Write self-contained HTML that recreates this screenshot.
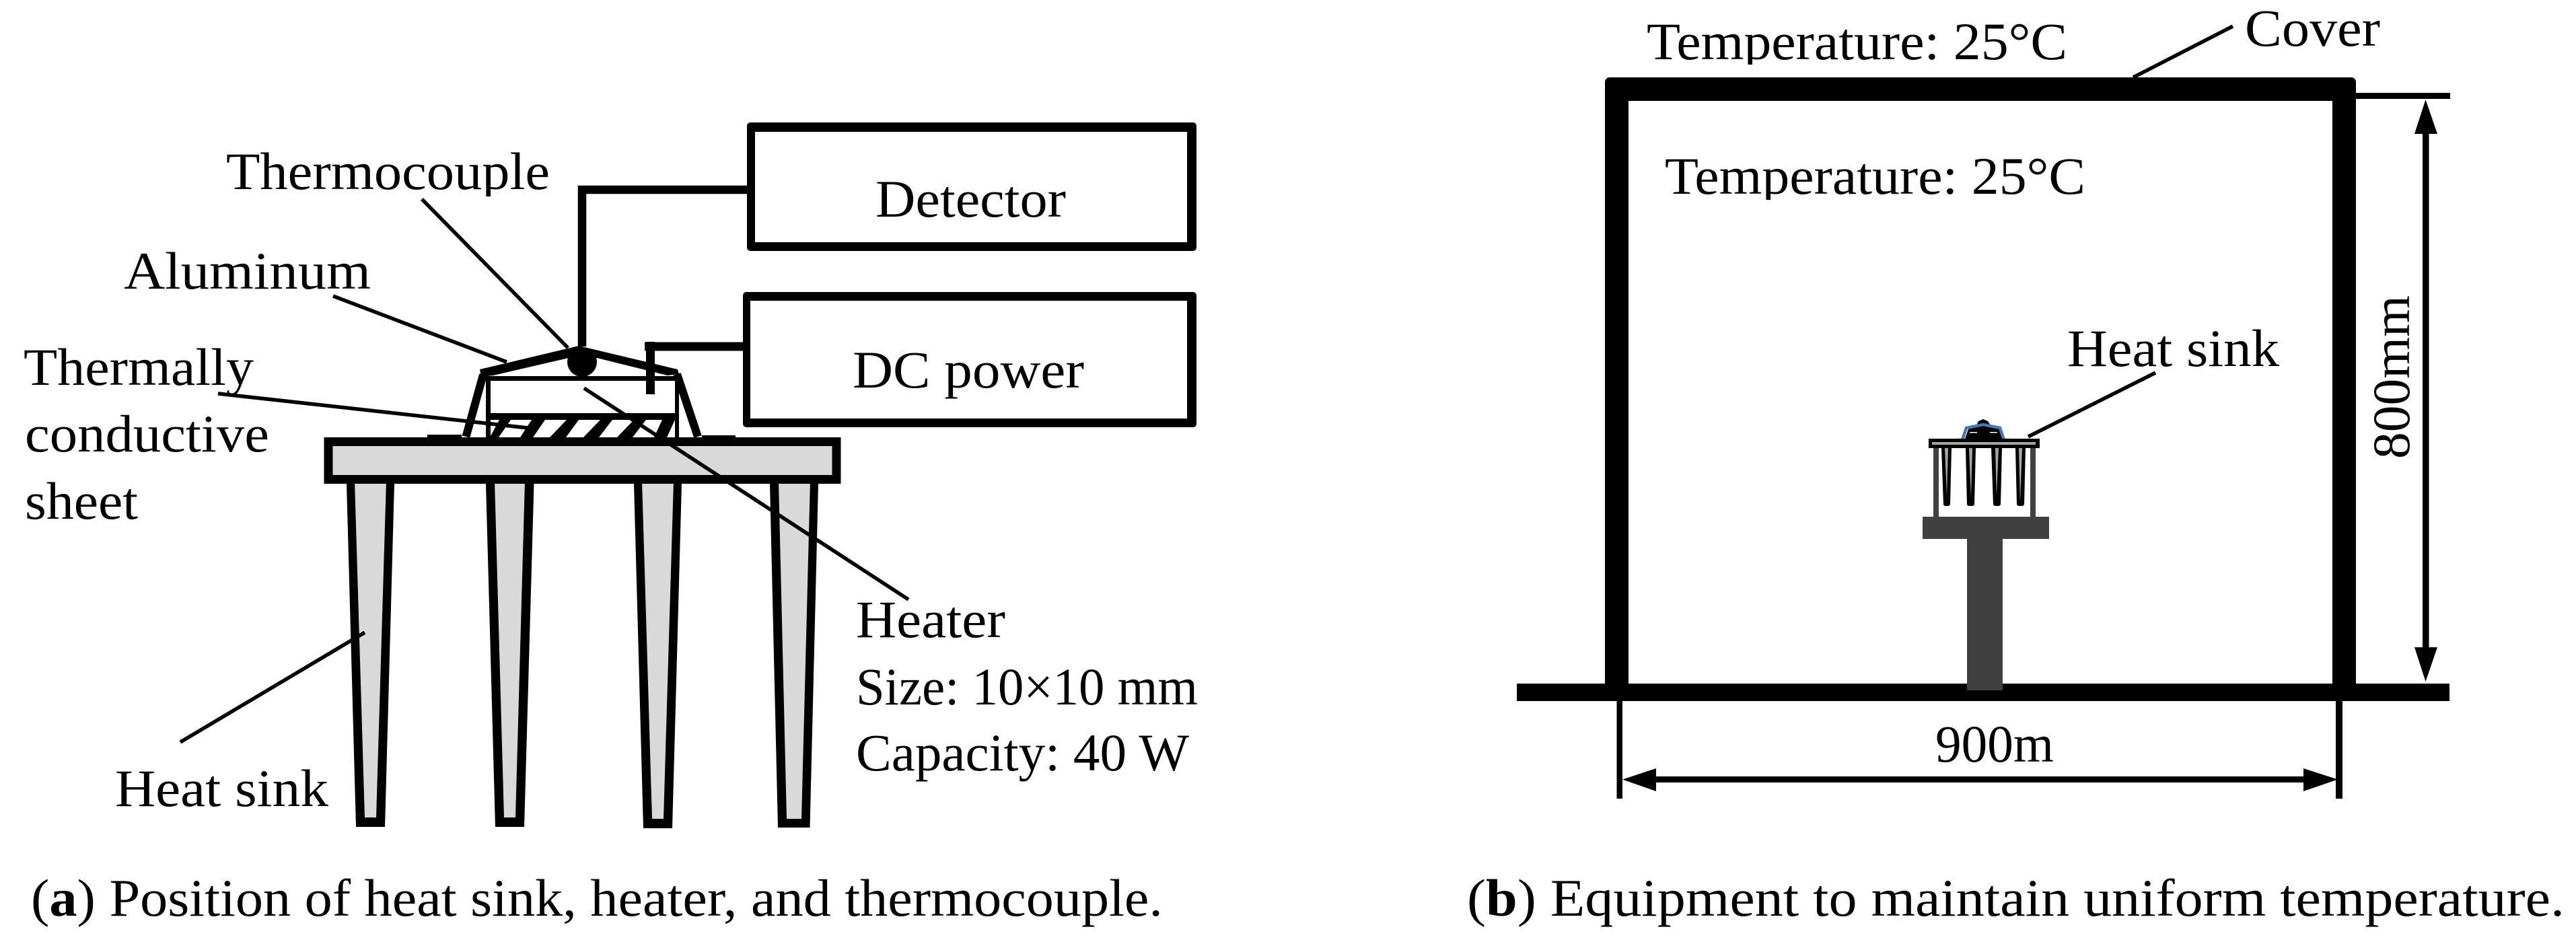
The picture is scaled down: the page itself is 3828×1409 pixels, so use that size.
<!DOCTYPE html>
<html>
<head>
<meta charset="utf-8">
<style>
html,body{margin:0;padding:0;background:#fff;}
svg{display:block;}
text{font-family:"Liberation Serif",serif;font-size:78px;fill:#000;}
</style>
</head>
<body>
<svg width="3828" height="1409" viewBox="0 0 3828 1409" xmlns="http://www.w3.org/2000/svg">
<defs>
<clipPath id="c1"><rect x="0" y="0" width="3828" height="292"/></clipPath>
<clipPath id="c2"><rect x="0" y="0" width="3828" height="586"/></clipPath>
<clipPath id="c3"><rect x="0" y="0" width="3828" height="96"/></clipPath>
<clipPath id="c4"><rect x="0" y="200" width="3828" height="97"/></clipPath>
</defs>
<rect width="3828" height="1409" fill="#fff"/>

<!-- (a) boxes -->
<rect x="1110" y="182" width="668" height="191" rx="5" fill="#000"/>
<rect x="1122" y="196" width="642" height="164" fill="#fff"/>
<rect x="1104" y="434" width="674" height="201" rx="5" fill="#000"/>
<rect x="1115" y="447" width="649" height="175" fill="#fff"/>
<path d="M865 515V282H1110" fill="none" stroke="#000" stroke-width="12.5"/>
<path d="M1104 515H958M966.5 508V586" fill="none" stroke="#000" stroke-width="13"/>

<!-- (a) heat sink -->
<g stroke="none">
<polygon points="515,719 586,719 572,1229 529,1229" fill="#000"/>
<polygon points="527,715 574,715 559,1215 542,1215" fill="#d9d9d9"/>
<polygon points="722,719 793.5,719 779,1229 736,1229" fill="#000"/>
<polygon points="735,715 780,715 766,1215 749,1215" fill="#d9d9d9"/>
<polygon points="942,719 1013,719 999,1231 956,1231" fill="#000"/>
<polygon points="954,715 1001,715 986,1217 969,1217" fill="#d9d9d9"/>
<polygon points="1144,719 1216,719 1203.5,1230 1156,1230" fill="#000"/>
<polygon points="1157,715 1204,715 1191,1217 1169,1217" fill="#d9d9d9"/>
</g>
<rect x="488" y="656.5" width="755" height="56" fill="#d9d9d9" stroke="#000" stroke-width="13"/>

<!-- heater + hatch -->
<g fill="#000">
<polygon points="728,650 741,650 759,624 742,624"/>
<polygon points="773,650 792,650 810,624 790,624"/>
<polygon points="817,650 841,650 860,624 842,624"/>
<polygon points="867,650 890,650 910,624 892,624"/>
<polygon points="917,650 940,650 960,624 942,624"/>
<polygon points="972,650 991,650 1003,624 984,624"/>
<rect x="722" y="559" width="287" height="7"/>
<rect x="722" y="614" width="287" height="10"/>
<rect x="722" y="559" width="7" height="91"/>
<rect x="1003" y="559" width="6" height="91"/>
<rect x="635" y="646" width="51" height="5"/>
<rect x="1043" y="647" width="50" height="4"/>
<circle cx="865" cy="538" r="22"/>
<polygon points="713,549 860,514 1007,549 1009,556 992,558 887,532 845,532 733,558 715,560"/>
</g>
<path d="M718 557L692.5 649M1006 556L1037 649" fill="none" stroke="#000" stroke-width="12"/>

<!-- (a) text -->
<text x="336" y="281" textLength="481" lengthAdjust="spacingAndGlyphs" clip-path="url(#c1)">Thermocouple</text>
<text x="184" y="429" textLength="367" lengthAdjust="spacingAndGlyphs">Aluminum</text>
<text x="35" y="572" textLength="342" lengthAdjust="spacingAndGlyphs" clip-path="url(#c2)">Thermally</text>
<text x="37" y="671" textLength="363" lengthAdjust="spacingAndGlyphs">conductive</text>
<text x="37" y="771" textLength="168" lengthAdjust="spacingAndGlyphs">sheet</text>
<text x="1301" y="322" textLength="283" lengthAdjust="spacingAndGlyphs">Detector</text>
<text x="1267" y="576" textLength="344" lengthAdjust="spacingAndGlyphs">DC power</text>
<text x="1272" y="947" textLength="222" lengthAdjust="spacingAndGlyphs">Heater</text>
<text x="1272" y="1047" textLength="508" lengthAdjust="spacingAndGlyphs">Size: 10×10 mm</text>
<text x="1272" y="1145" textLength="495" lengthAdjust="spacingAndGlyphs">Capacity: 40 W</text>
<text x="171" y="1198" textLength="317" lengthAdjust="spacingAndGlyphs">Heat sink</text>
<text x="46" y="1361" textLength="1682" lengthAdjust="spacingAndGlyphs">(<tspan font-weight="bold">a</tspan>) Position of heat sink, heater, and thermocouple.</text>

<!-- (a) leaders -->
<g stroke="#000" stroke-width="5.5" fill="none">
<line x1="627" y1="296" x2="844" y2="517"/>
<line x1="495" y1="440" x2="753" y2="538"/>
<line x1="324" y1="585" x2="784" y2="636"/>
<line x1="868" y1="577" x2="1350" y2="891"/>
<line x1="268" y1="1103" x2="542" y2="940"/>
</g>

<!-- (b) enclosure -->
<g fill="#000">
<rect x="2385" y="115" width="1116" height="35" rx="7"/>
<rect x="2385" y="125" width="35" height="900"/>
<rect x="3466" y="125" width="35" height="900"/>
<rect x="3501" y="138" width="140" height="9"/>
<rect x="2254" y="1016" width="1386" height="26"/>
<!-- vertical dimension -->
<rect x="3600" y="190" width="9.5" height="780"/>
<polygon points="3604.5,148 3622,199 3588,199"/>
<polygon points="3604.5,1013 3622,962 3588,962"/>
<!-- horizontal dimension -->
<rect x="2402.5" y="1042" width="8.5" height="145"/>
<rect x="3471" y="1042" width="10" height="145"/>
<rect x="2455" y="1154" width="975" height="9"/>
<polygon points="2411,1158.5 2461,1142 2461,1176"/>
<polygon points="3474,1158.5 3423,1142 3423,1176"/>
</g>

<!-- (b) stand -->
<g fill="#404040">
<rect x="2923" y="801" width="53" height="225"/>
<rect x="2857" y="768" width="188" height="33"/>
<rect x="2873" y="666" width="8" height="102"/>
<rect x="3017" y="666" width="8" height="102"/>
</g>
<polygon points="2920,652 2925,638 2937,632 2940,626 2947,623 2954,626 2958,632 2972,638 2977,652" fill="#000"/>
<rect x="2927" y="642" width="11" height="1.5" fill="#fff"/>
<rect x="2957" y="642" width="11" height="1.5" fill="#fff"/>
<polyline points="2907,654 2916,654 2922,636 2947,631 2972,636 2978,654 2988,654" fill="none" stroke="#4477b5" stroke-width="4.5"/>
<rect x="2866" y="652" width="165" height="14" fill="#000"/>
<rect x="2871" y="657" width="154" height="4" fill="#a6a6a6"/>
<g fill="#000">
<polygon points="2885,666 2900,666 2898,750 2896,752 2890,752 2888,750"/>
<polygon points="2921,666 2936,666 2934,750 2932,752 2925,752 2923,750"/>
<polygon points="2959,666 2975,666 2973,750 2971,752 2964,752 2962,750"/>
<polygon points="2995,666 3010,666 3008,750 3006,752 2999,752 2997,750"/>
</g>
<g fill="#a6a6a6">
<polygon points="2890,666 2895,666 2893,737"/>
<polygon points="2926,666 2931,666 2929,740"/>
<polygon points="2965,666 2970,666 2967,737"/>
<polygon points="3000,666 3005,666 3002,747"/>
</g>

<!-- (b) leaders -->
<g stroke="#000" stroke-width="5.5" fill="none">
<line x1="3318" y1="39" x2="3170" y2="115"/>
<line x1="3014" y1="649" x2="3203" y2="554"/>
</g>

<!-- (b) text -->
<text x="2447" y="88" textLength="625" lengthAdjust="spacingAndGlyphs" clip-path="url(#c3)">Temperature: 25°C</text>
<text x="3336" y="68" textLength="201" lengthAdjust="spacingAndGlyphs">Cover</text>
<text x="2474" y="288" textLength="625" lengthAdjust="spacingAndGlyphs" clip-path="url(#c4)">Temperature: 25°C</text>
<text x="3072" y="544" textLength="315" lengthAdjust="spacingAndGlyphs">Heat sink</text>
<text x="2876" y="1132" textLength="176" lengthAdjust="spacingAndGlyphs">900m</text>
<text transform="translate(3580 682) rotate(-90)" x="0" y="0" textLength="243" lengthAdjust="spacingAndGlyphs">800mm</text>
<text x="2180" y="1361" textLength="1631" lengthAdjust="spacingAndGlyphs">(<tspan font-weight="bold">b</tspan>) Equipment to maintain uniform temperature.</text>
</svg>
</body>
</html>
